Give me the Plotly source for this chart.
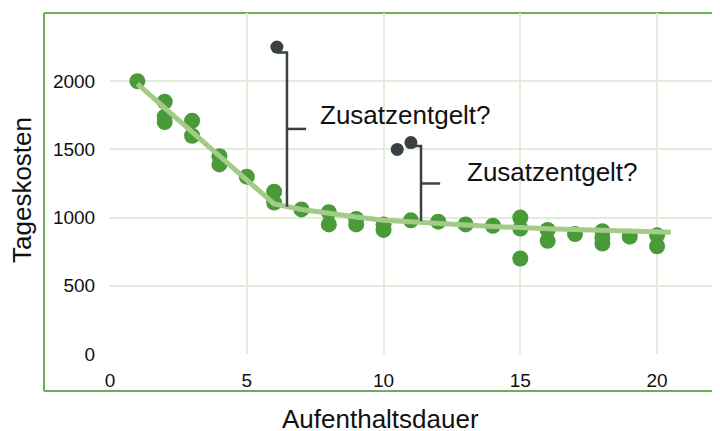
import plotly.graph_objects as go

# Data
dauer = [1, 2, 2, 2, 3, 3, 4, 4, 5, 6, 6, 7, 8, 8, 9, 9, 10, 10, 11, 12, 13, 14,
         15, 15, 15, 16, 16, 17, 18, 18, 18, 19, 20, 20]
kosten = [2000, 1850, 1740, 1700, 1710, 1600, 1450, 1390, 1300, 1190, 1110, 1060,
          1040, 950, 990, 950, 950, 910, 980, 970, 950, 940,
          1000, 920, 700, 910, 830, 880, 900, 850, 810, 860, 870, 790]

ausreisser_x = [6.1, 10.5, 11.0]
ausreisser_y = [2250, 1500, 1550]

trend_x = [1, 6, 7, 8, 9, 10, 12, 14, 16, 18, 20.5]
trend_y = [1980, 1100, 1060, 1030, 1005, 980, 955, 935, 918, 905, 893]

x_ticks = [0, 5, 10, 15, 20]
y_ticks = [0, 500, 1000, 1500, 2000]

# Annotation brackets
brackets = [
    dict(x0=6.1, x=6.47, top=2210, bottom=1080, mid=1650, tick_end=7.17,
         label="Zusatzentgelt?", lx=7.6, ly=1752),
    dict(x0=11.0, x=11.37, top=1525, bottom=975, mid=1250, tick_end=12.07,
         label="Zusatzentgelt?", lx=12.98, ly=1334),
]

FONT = "Liberation Sans, Arial"

fig = go.Figure()

fig.add_trace(go.Scatter(x=dauer, y=kosten, mode="markers",
                         marker=dict(color="#4a9a3a", size=16),
                         showlegend=False, hoverinfo="skip"))
fig.add_trace(go.Scatter(x=trend_x, y=trend_y, mode="lines",
                         line=dict(color="#a2cc86", width=5),
                         showlegend=False, hoverinfo="skip"))
fig.add_trace(go.Scatter(x=ausreisser_x, y=ausreisser_y, mode="markers",
                         marker=dict(color="#394240", size=13),
                         showlegend=False, hoverinfo="skip"))

for b in brackets:
    fig.add_shape(type="path",
                  path=f"M {b['x0']},{b['top']} L {b['x']},{b['top']} L {b['x']},{b['bottom']}",
                  line=dict(color="#394240", width=2.5))
    fig.add_shape(type="line", x0=b["x"], x1=b["tick_end"], y0=b["mid"], y1=b["mid"],
                  line=dict(color="#394240", width=2.5))
    fig.add_annotation(x=b["lx"], y=b["ly"], text=b["label"], showarrow=False,
                       xanchor="left", yanchor="middle",
                       font=dict(size=26, color="#111111", family=FONT))

# Axis titles
fig.add_annotation(xref="paper", yref="paper", x=(380 - 110) / 610, y=(354 - 419) / 341,
                   text="Aufenthaltsdauer", showarrow=False, xanchor="center", yanchor="middle",
                   font=dict(size=26, color="#111111", family=FONT))
fig.add_annotation(xref="paper", yref="paper", x=(22 - 110) / 610, y=(354 - 190) / 341,
                   text="Tageskosten", showarrow=False, xanchor="center", yanchor="middle",
                   textangle=-90, font=dict(size=26, color="#111111", family=FONT))

# Green frame: left, top and bottom edges only (right edge is off-screen)
fx0 = (44 - 110) / 610
fy0 = (354 - 391) / 341
frame_line = dict(color="#6aae5a", width=2)
fig.add_shape(type="line", xref="paper", yref="paper", x0=fx0, x1=fx0, y0=fy0, y1=1,
              line=frame_line, layer="below")
fig.add_shape(type="line", xref="paper", yref="paper", x0=fx0, x1=1.2, y0=1, y1=1,
              line=frame_line, layer="below")
fig.add_shape(type="line", xref="paper", yref="paper", x0=fx0, x1=1.2, y0=fy0, y1=fy0,
              line=frame_line, layer="below")

fig.update_layout(
    width=720, height=431,
    margin=dict(l=102, r=8, t=5, b=85),
    paper_bgcolor="white", plot_bgcolor="white",
    font=dict(family=FONT, color="#111111"),
    xaxis=dict(range=[0, 22.3], tickvals=x_ticks, showgrid=True,
               gridcolor="#e3ecd8", gridwidth=2, zeroline=False,
               showline=False, tickfont=dict(size=19), automargin=False,
               ticks="outside", ticklen=9, tickcolor="rgba(0,0,0,0)"),
    yaxis=dict(range=[0, 2500], tickvals=y_ticks, showgrid=True,
               gridcolor="#e3ecd8", gridwidth=2, zeroline=False,
               showline=False, tickfont=dict(size=19), automargin=False,
               ticks="outside", ticklen=10, tickcolor="rgba(0,0,0,0)"),
)

fig.write_html("out.html")
